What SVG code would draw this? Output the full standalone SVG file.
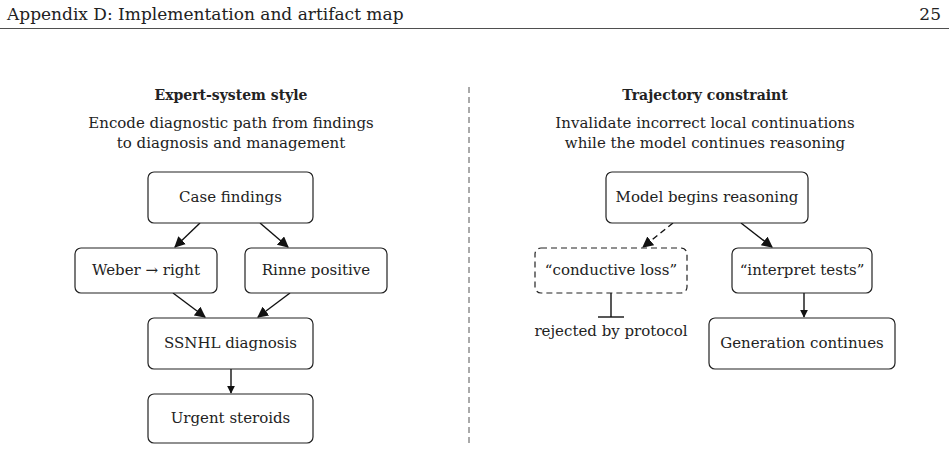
<svg xmlns="http://www.w3.org/2000/svg" width="949" height="451" viewBox="0 0 949 451">
<style>
text{font-family:"DejaVu Serif","Liberation Serif",serif;font-size:15px;fill:#222;text-anchor:middle}
.b{font-weight:bold;font-size:14px}
.h{font-size:17px}
.box{fill:#fff;stroke:#222;stroke-width:1.2}
.dash{stroke-dasharray:6,4}
.c{stroke:#111;stroke-width:1.4;fill:none}
</style>
<defs><marker id="a" viewBox="0 0 10 10" refX="9" refY="5" markerWidth="8" markerHeight="8" markerUnits="userSpaceOnUse" orient="auto"><path d="M0,0L10,5L0,10z" fill="#111"/></marker>
<marker id="ab" viewBox="0 0 10 10" refX="9" refY="5" markerWidth="11" markerHeight="11" markerUnits="userSpaceOnUse" orient="auto"><path d="M0,0L10,5L0,10z" fill="#111"/></marker></defs>
<text class="h" x="7" y="20" style="text-anchor:start">Appendix D: Implementation and artifact map</text>
<text class="h" x="941" y="20" style="text-anchor:end">25</text>
<line x1="0" y1="28.5" x2="949" y2="28.5" stroke="#222" stroke-width="0.8"/>
<line x1="469" y1="87" x2="469" y2="445" stroke="#555" stroke-width="1" stroke-dasharray="6,4"/>
<text class="b" x="231" y="100">Expert-system style</text>
<text x="231" y="128">Encode diagnostic path from findings</text>
<text x="231" y="148">to diagnosis and management</text>
<text class="b" x="705" y="100">Trajectory constraint</text>
<text x="705" y="128">Invalidate incorrect local continuations</text>
<text x="705" y="148">while the model continues reasoning</text>
<g id="connectors">
<line class="c" x1="200" y1="223" x2="175" y2="247" marker-end="url(#ab)"/>
<line class="c" x1="260" y1="223" x2="288" y2="247" marker-end="url(#ab)"/>
<line class="c" x1="173" y1="293" x2="205" y2="317" marker-end="url(#ab)"/>
<line class="c" x1="290" y1="293" x2="258" y2="317" marker-end="url(#ab)"/>
<line class="c" x1="231" y1="369" x2="231" y2="393" marker-end="url(#a)"/>
<line class="c dash" x1="673" y1="223" x2="643" y2="247" marker-end="url(#ab)"/>
<line class="c" x1="741" y1="223" x2="772" y2="247" marker-end="url(#ab)"/>
<line class="c" x1="804" y1="293" x2="804" y2="317" marker-end="url(#a)"/>
<line class="c" x1="611" y1="293" x2="611" y2="317"/>
<line class="c" x1="598" y1="317" x2="624" y2="317"/>
</g>
<g id="case"><rect class="box" x="148" y="172" width="165" height="51" rx="6"/><text x="230.5" y="202">Case findings</text></g>
<g id="weber"><rect class="box" x="75" y="248" width="142" height="45" rx="6"/><text x="146" y="275">Weber → right</text></g>
<g id="rinne"><rect class="box" x="245" y="248" width="142" height="45" rx="6"/><text x="316" y="275">Rinne positive</text></g>
<g id="ssnhl"><rect class="box" x="148" y="318" width="165" height="51" rx="6"/><text x="230.5" y="348">SSNHL diagnosis</text></g>
<g id="steroids"><rect class="box" x="148" y="394" width="165" height="49" rx="6"/><text x="230.5" y="423">Urgent steroids</text></g>
<g id="model"><rect class="box" x="606" y="172" width="202" height="51" rx="6"/><text x="707" y="202">Model begins reasoning</text></g>
<g id="conductive"><rect class="box dash" x="535" y="248" width="152" height="45" rx="6"/><text x="611" y="275">“conductive loss”</text></g>
<g id="interpret"><rect class="box" x="732" y="248" width="140" height="45" rx="6"/><text x="802" y="275">“interpret tests”</text></g>
<g id="rejected"><text x="611" y="336">rejected by protocol</text></g>
<g id="generation"><rect class="box" x="709" y="318" width="186" height="51" rx="6"/><text x="802" y="348">Generation continues</text></g>
</svg>
